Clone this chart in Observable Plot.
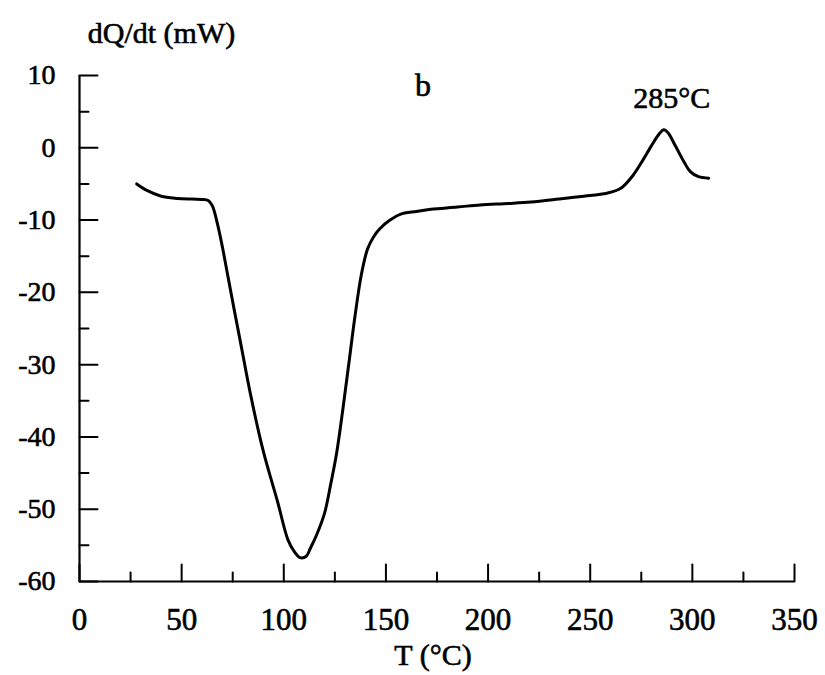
<!DOCTYPE html>
<html>
<head>
<meta charset="utf-8">
<script src="https://cdn.jsdelivr.net/npm/d3@7"></script>
<script src="https://cdn.jsdelivr.net/npm/@observablehq/plot@0.6"></script>
<style>
  html, body { margin: 0; padding: 0; background: #fff; }
  #chart svg { display: block; }
  #chart svg text { stroke: black; stroke-width: 0.6px; }
</style>
</head>
<body>
<div id="chart"></div>
<script>
// Temperature (°C)
const temps = [28, 33, 40, 48, 55, 60, 63, 65, 67.5, 70, 72, 74, 76, 79, 84, 90, 97, 102, 105, 108, 111, 113, 116, 120, 123, 126, 129, 132, 135, 138, 141, 144, 147, 152, 157, 165, 172, 185, 196, 210, 221, 237, 250, 258, 265, 271, 276, 280, 284, 286, 288, 292, 296, 299, 303, 308];
// Heat flow dQ/dt (mW)
const dqdt = [-5.0, -5.9, -6.7, -7.0, -7.1, -7.15, -7.3, -8.0, -10.5, -13.8, -16.8, -19.8, -22.8, -27.2, -34.5, -42.0, -49.0, -54.2, -55.8, -56.7, -56.5, -55.4, -53.6, -50.5, -46.5, -42.0, -36.0, -29.5, -23.0, -17.5, -14.0, -12.3, -11.2, -10.0, -9.2, -8.8, -8.5, -8.2, -7.9, -7.7, -7.5, -7.0, -6.6, -6.3, -5.6, -3.8, -1.6, 0.3, 2.0, 2.5, 2.1, 0.1, -2.0, -3.3, -4.0, -4.2];

const xTicks = [0, 50, 100, 150, 200, 250, 300, 350];
const xMinor = [25, 75, 125, 175, 225, 275, 325];
const yTicks = [10, 0, -10, -20, -30, -40, -50, -60];
const yMinor = [5, -5, -15, -25, -35, -45, -55];

const yTitle = "dQ/dt (mW)";
const xTitle = "T (°C)";
const panelLabel = "b";
const peakLabel = "285°C";

const data = temps.map((t, i) => ({t, q: dqdt[i]}));
const peak = data.filter(d => d.t > 250).reduce((a, b) => (b.q > a.q ? b : a));

// plain straight tick shape for vectors (no arrowhead)
const tickShape = {draw(context, l) { context.moveTo(0, 0); context.lineTo(0, -l); }};

const chart = Plot.plot({
  width: 825,
  height: 675,
  marginLeft: 79,
  marginRight: 31,
  marginTop: 75,
  marginBottom: 94,
  x: {domain: [0, 350]},
  y: {domain: [-60, 10]},
  style: {fontFamily: "'Liberation Serif', 'Times New Roman', serif", color: "black", background: "white"},
  marks: [
    Plot.axisX(xTicks, {tickSize: 0, tickPadding: 26, fontSize: 31, label: null, tickFormat: d => String(d)}),
    Plot.axisY(yTicks, {tickSize: 0, tickPadding: 24, fontSize: 28, label: null, tickFormat: d => String(d)}),
    Plot.vector(xTicks, {x: d => d, frameAnchor: "bottom", rotate: 0, length: 17, anchor: "start", shape: tickShape, stroke: "black", strokeWidth: 2}),
    Plot.vector(xMinor, {x: d => d, frameAnchor: "bottom", rotate: 0, length: 9, anchor: "start", shape: tickShape, stroke: "black", strokeWidth: 2}),
    Plot.vector(yTicks, {y: d => d, frameAnchor: "left", rotate: 90, length: 18, anchor: "start", shape: tickShape, stroke: "black", strokeWidth: 2}),
    Plot.vector(yMinor, {y: d => d, frameAnchor: "left", rotate: 90, length: 9, anchor: "start", shape: tickShape, stroke: "black", strokeWidth: 2}),
    Plot.ruleX([0], {stroke: "black", strokeWidth: 2.2}),
    Plot.ruleY([-60], {stroke: "black", strokeWidth: 2.2}),
    Plot.line(data, {x: "t", y: "q", curve: "catmull-rom", stroke: "black", strokeWidth: 3}),
    Plot.text([peak], {x: "t", y: "q", text: () => peakLabel, dx: 8, dy: -31, fontSize: 30, lineAnchor: "middle", fill: "black"}),
    Plot.text([panelLabel], {frameAnchor: "top", text: d => d, dx: -14, dy: 10, fontSize: 32, lineAnchor: "middle", fill: "black"}),
    Plot.text([yTitle], {frameAnchor: "top-left", text: d => d, dx: 82, dy: -42, fontSize: 30, lineAnchor: "middle", textAnchor: "middle", fill: "black"}),
    Plot.text([xTitle], {frameAnchor: "bottom", text: d => d, dx: -4, dy: 74, fontSize: 30, lineAnchor: "middle", fill: "black"})
  ]
});
document.getElementById("chart").append(chart);
</script>
</body>
</html>
